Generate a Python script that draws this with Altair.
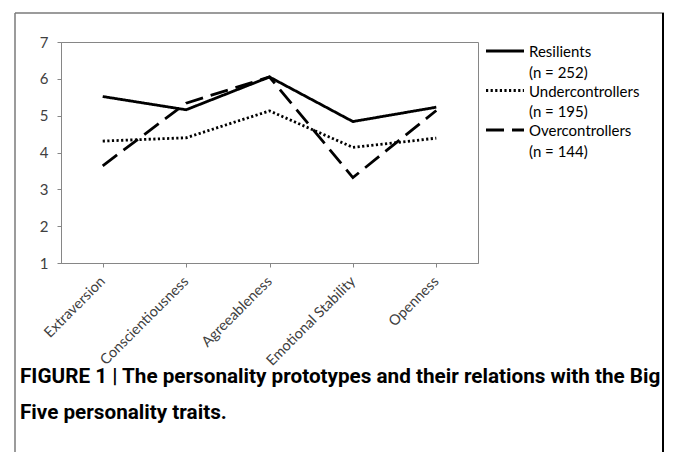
import altair as alt
import pandas as pd

categories = ["Extraversion", "Conscientiousness", "Agreeableness", "Emotional Stability", "Openness"]
series = ["Resilients", "Undercontrollers", "Overcontrollers"]
group_n = [252, 195, 144]
resilients = [5.52, 5.16, 6.05, 4.84, 5.23]
undercontrollers = [4.31, 4.40, 5.13, 4.14, 4.39]
overcontrollers = [3.64, 5.34, 6.05, 3.32, 5.14]
y_ticks = [1, 2, 3, 4, 5, 6, 7]
caption_lines = [
    "FIGURE 1 | The personality prototypes and their relations with the Big",
    "Five personality traits.",
]

dash_styles = [[1, 0], [2.2, 2.4], [18, 8]]

rows = []
for name, vals in zip(series, [resilients, undercontrollers, overcontrollers]):
    for cat, v in zip(categories, vals):
        rows.append({"trait": cat, "series": name, "value": v})
df = pd.DataFrame(rows)

AX = "#868686"
TXT = "#404040"

lines = alt.Chart(df).mark_line(color="black", strokeWidth=2.8).encode(
    x=alt.X(
        "trait:N",
        sort=categories,
        scale=alt.Scale(type="point", padding=0.5),
        axis=alt.Axis(
            title=None, labelAngle=-45, labelFont="Lato", labelFontSize=14.5,
            labelColor=TXT, domainColor=AX, tickColor=AX, tickSize=4,
            labelPadding=12, labelAlign="right", labelBaseline="middle",
        ),
    ),
    y=alt.Y(
        "value:Q",
        scale=alt.Scale(domain=[1, 7], nice=False, zero=False),
        axis=alt.Axis(
            values=y_ticks, title=None, grid=False, labelFont="Lato",
            labelFontSize=15, labelColor=TXT, domainColor=AX, tickColor=AX,
            tickSize=4, labelPadding=9,
        ),
    ),
    strokeDash=alt.StrokeDash(
        "series:N", sort=series,
        scale=alt.Scale(domain=series, range=dash_styles), legend=None,
    ),
)

layers = [lines]

# legend (drawn manually to match the two-line labels)
for i, (name, n, dash) in enumerate(zip(series, group_n, dash_styles)):
    y0 = 9 + 39.5 * i
    src = pd.DataFrame({"series": [name]})
    layers.append(
        alt.Chart(src).mark_rule(color="black", strokeWidth=2.8, strokeDash=dash).encode(
            x=alt.value(425), x2=alt.value(463), y=alt.value(y0)
        )
    )
    layers.append(
        alt.Chart(src).mark_text(
            align="left", baseline="middle", font="Lato", fontSize=15, color="black"
        ).encode(text=alt.value(name), x=alt.value(468), y=alt.value(y0 + 1))
    )
    layers.append(
        alt.Chart(src).mark_text(
            align="left", baseline="middle", font="Lato", fontSize=15, color="black"
        ).encode(text=alt.value(f"(n = {n})"), x=alt.value(468), y=alt.value(y0 + 21.5))
    )

# caption
for j, line in enumerate(caption_lines):
    layers.append(
        alt.Chart(pd.DataFrame({"t": [line]})).mark_text(
            align="left", baseline="middle", font="Roboto",
            fontSize=20.7, fontWeight="bold", color="black",
        ).encode(text="t:N", x=alt.value(-41), y=alt.value(335 + 36 * j))
    )

# figure frame
frame = pd.DataFrame({"k": [0]})
layers.append(alt.Chart(frame).mark_rule(color="#7a7a7a", strokeWidth=1.5).encode(
    x=alt.value(-46), y=alt.value(-29), y2=alt.value(420)))
layers.append(alt.Chart(frame).mark_rule(color="#7a7a7a", strokeWidth=1.5).encode(
    x=alt.value(-46), x2=alt.value(603), y=alt.value(-29)))
layers.append(alt.Chart(frame).mark_rule(color="black", strokeWidth=2).encode(
    x=alt.value(602), y=alt.value(-29), y2=alt.value(420)))

chart = alt.layer(*layers).properties(
    width=417,
    height=221,
    autosize=alt.AutoSizeParams(type="none"),
    padding={"left": 53, "top": 34, "right": 186, "bottom": 189},
    background="white",
).configure_view(stroke=AX, strokeWidth=1)

chart.save("out.html", embed_options={"renderer": "svg", "actions": False})
